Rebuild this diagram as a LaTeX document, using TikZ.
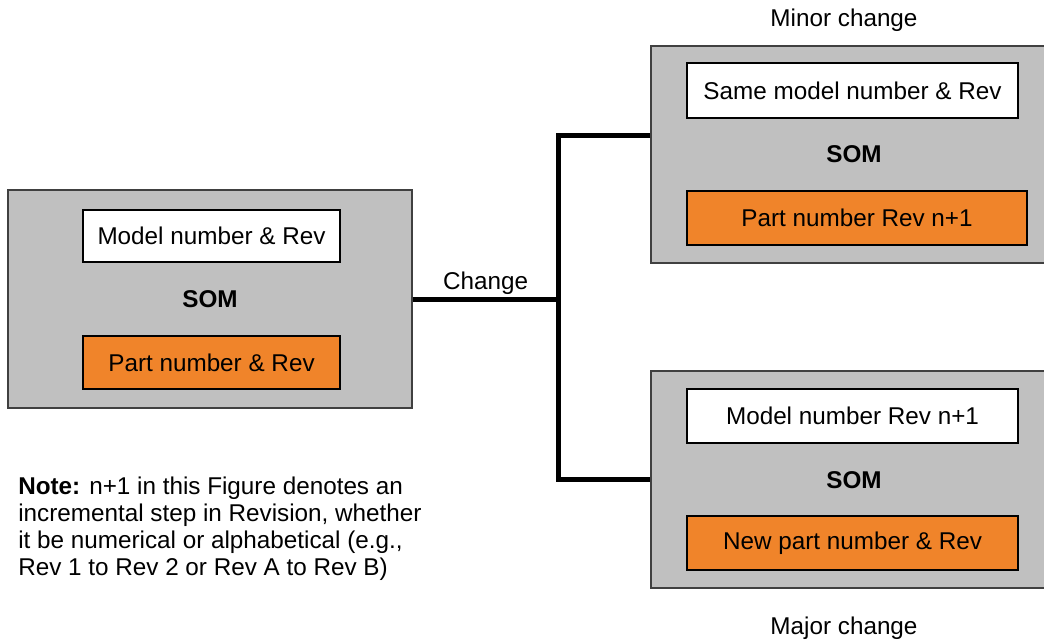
\documentclass[tikz,border=0pt]{standalone}
\usepackage{fontspec}
\setmainfont{Liberation Sans}
\usetikzlibrary{positioning}
\definecolor{somgray}{HTML}{C0C0C0}
\definecolor{partorange}{HTML}{F0842A}

\begin{document}
\begin{tikzpicture}[x=0.75pt,y=-0.75pt,font=\fontsize{18.2}{20.25}\selectfont,
	som/.style={draw=black!75,fill=somgray,line width=0.9pt,inner sep=0pt,
		minimum width=303pt,minimum height=163.5pt},
	modelbox/.style={draw=black,fill=white,line width=0.9pt,inner sep=0pt,
		minimum width=248.25pt,minimum height=40.5pt},
	partbox/.style={modelbox,fill=partorange},
	somlabel/.style={font=\fontsize{18.2}{20.25}\selectfont\bfseries},
	link/.style={line width=3.75pt}]
	\useasboundingbox (0,0) rectangle (1044,641);

	%current SOM
	\node[som] (cur) at (210,299) {};
	\node[modelbox,minimum width=192.75pt,minimum height=39pt] (curmodel) at (211.5,236) {Model number \& Rev};
	\node[somlabel] (cursom) at (cur) {SOM};
	\node[partbox,minimum width=192.75pt,minimum height=39.75pt] (curpart) at (211.5,362.5) {Part number \& Rev};

	%minor change
	\node[som,minimum width=306.75pt,minimum height=162.75pt] (minor) at (855.5,154.5) {};
	\node[modelbox,minimum height=41.25pt] (minormodel) at (852.5,90.5) {Same model number \& Rev};
	\node[somlabel] (minorsom) at (854,154) {SOM};
	\node[partbox,minimum width=255pt] (minorpart) at (857,218) {Part number Rev n+1};
	\node (minorlabel) at (844,20) {Minor change};

	%major change
	\node[som,minimum width=306.75pt,minimum height=162.75pt] (major) at (855.5,479.5) {};
	\node[modelbox] (majormodel) at (852.5,416) {Model number Rev n+1};
	\node[somlabel] (majorsom) at (854,480) {SOM};
	\node[partbox] (majorpart) at (852.5,543) {New part number \& Rev};
	\node (majorlabel) at (844,628) {Major change};

	%connectors
	\coordinate[right=109.5pt of cur.east] (split);
	\draw[link] (cur.east) -- (split) node[pos=0.5,above=-2pt] (chg) {Change};
	\draw[link] ([yshift=13.9pt]minor.west) -| (split) |- (major.west);

	%note
	\node[anchor=west,align=left,inner sep=0pt] (note) at (18,528.5)
		{\textbf{Note:} n+1 in this Figure denotes an\\
		incremental step in Revision, whether\\
		it be numerical or alphabetical (e.g.,\\
		Rev 1 to Rev 2 or Rev A to Rev B)};
\end{tikzpicture}
\end{document}
